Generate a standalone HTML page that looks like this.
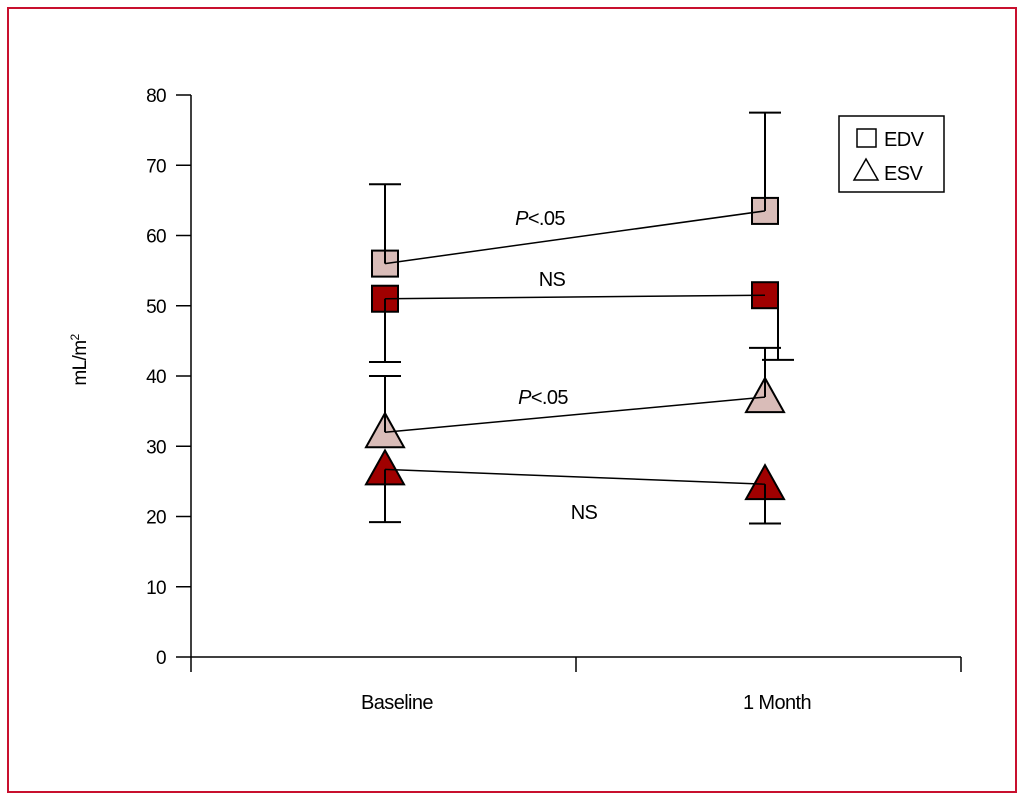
<!DOCTYPE html>
<html><head><meta charset="utf-8"><style>
body{margin:0;background:#fff;}
svg{display:block;font-family:"Liberation Sans",sans-serif;}
text{letter-spacing:-0.6px;}
</style></head><body>
<svg width="1024" height="800">
<rect x="8" y="8" width="1008" height="784" fill="#fff" stroke="#c8102e" stroke-width="2"/>
<g id="axes"></g>
<g id="marks"></g>
<text x="86" y="360" font-size="19" text-anchor="middle" transform="rotate(-90 86 360)">mL/m<tspan font-size="12" dy="-7">2</tspan></text>
<g>
<rect x="839" y="116" width="105" height="76" fill="#fff" stroke="#000" stroke-width="1.5"/>
<rect x="857" y="129" width="19" height="18" fill="none" stroke="#000" stroke-width="1.5"/>
<text x="884" y="146" font-size="20">EDV</text>
<polygon points="854,180 878,180 866,159" fill="none" stroke="#000" stroke-width="1.5"/>
<text x="884" y="180" font-size="20">ESV</text>
</g>
</svg>
<script>
const categories=["Baseline","1 Month"];
const yTicks=[0,10,20,30,40,50,60,70,80];
const edvPre=[56,63.5], edvPreErr=[67.3,77.5];
const edvPost=[51,51.5], edvPostErr=[42,42.3];
const esvPre=[32,37], esvPreErr=[40,44];
const esvPost=[26.7,24.6], esvPostErr=[19.2,19];
const annotations=["P<.05","NS","P<.05","NS"];
const NS="http://www.w3.org/2000/svg";
const y=v=>657-v*7.025;
const x=i=>385+i*380;
function mk(p,tag,a){const e=document.createElementNS(NS,tag);for(const k in a)e.setAttribute(k,a[k]);p.appendChild(e);return e;}
const ax=document.getElementById('axes'), m=document.getElementById('marks');
mk(ax,'line',{x1:191,y1:95,x2:191,y2:657,stroke:'#000','stroke-width':1.5});
mk(ax,'line',{x1:191,y1:657,x2:961,y2:657,stroke:'#000','stroke-width':1.5});
[191,576,961].forEach(t=>mk(ax,'line',{x1:t,y1:657,x2:t,y2:672,stroke:'#000','stroke-width':1.5}));
yTicks.forEach(v=>{
 mk(ax,'line',{x1:176,y1:y(v),x2:191,y2:y(v),stroke:'#000','stroke-width':1.5});
 const t=mk(ax,'text',{x:166,y:y(v)+7,'font-size':19,'text-anchor':'end'});t.textContent=v;
 
 
});
categories.forEach((c,i)=>{const t=mk(ax,'text',{x:x(i)+12,y:709,'font-size':20,'text-anchor':'middle'});t.textContent=c;
 
 });
function err(xx,v,e){mk(m,'line',{x1:xx,y1:y(v),x2:xx,y2:y(e),stroke:'#000','stroke-width':2});mk(m,'line',{x1:xx-16,y1:y(e),x2:xx+16,y2:y(e),stroke:'#000','stroke-width':2});}
function series(vals,errs,shape,fill,name,off){
 vals.forEach((v,i)=>{let e;
  if(shape=='sq')e=mk(m,'rect',{x:x(i)-13,y:y(v)-13,width:26,height:26,fill:fill,stroke:'#000','stroke-width':2});
  else e=mk(m,'polygon',{points:`${x(i)-19},${y(v)+15} ${x(i)+19},${y(v)+15} ${x(i)},${y(v)-19}`,fill:fill,stroke:'#000','stroke-width':2});
  
  });
 vals.forEach((v,i)=>err(x(i)+(off&&i==1?13:0),v,errs[i]));
 mk(m,'line',{x1:x(0),y1:y(vals[0]),x2:x(1),y2:y(vals[1]),stroke:'#000','stroke-width':1.5});
}
series(edvPre,edvPreErr,'sq','#d9bcb8','edv-baseline',false);
series(edvPost,edvPostErr,'sq','#a00000','edv-followup',true);
series(esvPre,esvPreErr,'tri','#d9bcb8','esv-baseline',false);
series(esvPost,esvPostErr,'tri','#a00000','esv-followup',false);
function ann(txt,xx,yy,it){const t=mk(m,'text',{x:xx,y:yy,'font-size':20,'text-anchor':'middle'});
 if(it){const s=mk(t,'tspan',{'font-style':'italic'});s.textContent='P';const r=mk(t,'tspan',{});r.textContent=txt.slice(1);}else t.textContent=txt;
 
 }
ann(annotations[0],540,225,true);ann(annotations[1],552,286,false);ann(annotations[2],543,404,true);ann(annotations[3],584,519,false);
</script>
</body></html>
